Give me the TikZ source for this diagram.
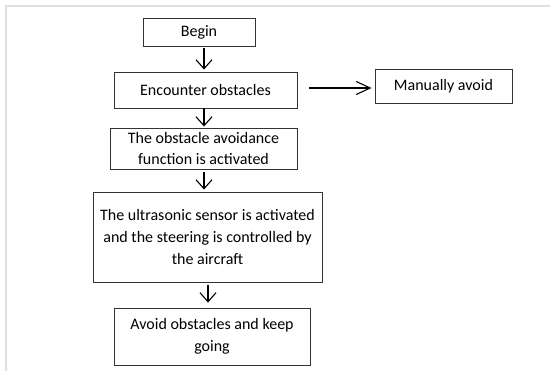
\documentclass[tikz,border=0pt]{standalone}
\usepackage{fontspec}
\setmainfont{Carlito}
\usetikzlibrary{arrows.meta}
\tikzset{
  stepbox/.style={draw=black!80, line width=0.9pt, align=center, inner sep=0pt,
    font=\fontsize{16}{21.7}\selectfont},
  flow/.style={line width=1.1pt, -{Straight Barb[length=9pt,width=16pt]}},
  sideflow/.style={line width=1.1pt, -{Straight Barb[length=14pt,width=13pt]}},
}
\begin{document}
\begin{tikzpicture}[x=1pt,y=-1pt]
      \useasboundingbox (0,0) rectangle (550,372);
      \draw[black!12, line width=2pt] (6,371) -- (6,6) -- (550,6);
      \draw
        (199,32) node[stepbox, minimum width=112, minimum height=28] (begin){Begin}
        (205.5,90) node[stepbox, minimum width=183, minimum height=36] (encounter){Encounter obstacles}
        (443.5,86) node[stepbox, minimum width=137, minimum height=34] (manual){Manually avoid}
        (203.5,148.5) node[stepbox, minimum width=187, minimum height=41] (activated){The obstacle avoidance\\function is activated}
        (207.5,237) node[stepbox, minimum width=229, minimum height=90] (sensor){The ultrasonic sensor is activated\\and the steering is controlled by\\the aircraft}
        (212,336.5) node[stepbox, minimum width=196, minimum height=57] (keepgoing){Avoid obstacles and keep\\going};
      \begin{scope}[flow]
        \draw[shorten <=2pt, shorten >=2pt] ([xshift=5pt]begin.south) -- ([xshift=5pt]begin.south |- encounter.north);
        \draw[shorten <=0pt, shorten >=1pt] ([xshift=-1.5pt]encounter.south) -- ([xshift=-1.5pt]encounter.south |- activated.north);
        \draw[shorten <=3pt, shorten >=2pt] ([xshift=0.5pt]activated.south) -- ([xshift=0.5pt]activated.south |- sensor.north);
        \draw[shorten <=3pt, shorten >=5pt] ([xshift=0.5pt]sensor.south) -- ([xshift=0.5pt]sensor.south |- keepgoing.north);
      \end{scope}
      \draw[sideflow, shorten <=12pt, shorten >=3pt] ([yshift=2pt]encounter.east) -- ([yshift=2pt]encounter.east -| manual.west);
    \end{tikzpicture}
\end{document}
